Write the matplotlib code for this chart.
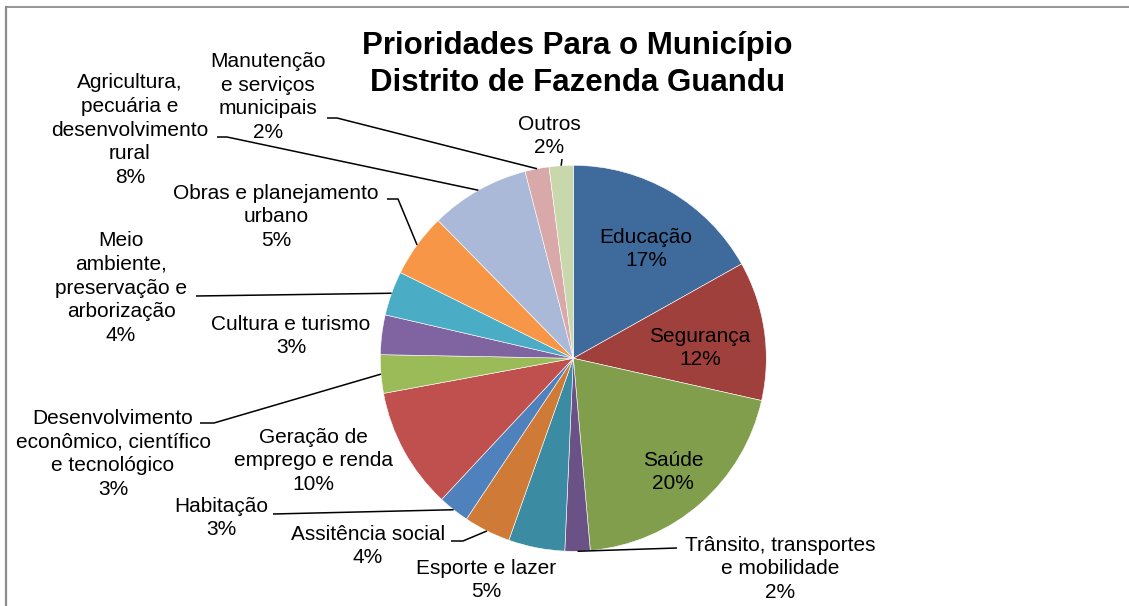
import numpy as np
import matplotlib
matplotlib.use("Agg")
import matplotlib.pyplot as plt

plt.rcParams['font.family'] = ['Liberation Sans', 'DejaVu Sans']

# data (clockwise from top)
categories = ["Educação", "Segurança", "Saúde", "Trânsito, transportes\ne mobilidade",
              "Esporte e lazer", "Assitência social", "Habitação",
              "Geração de\nemprego e renda",
              "Desenvolvimento\neconômico, científico\ne tecnológico",
              "Cultura e turismo",
              "Meio\nambiente,\npreservação e\narborização",
              "Obras e planejamento\nurbano",
              "Agricultura,\npecuária e\ndesenvolvimento\nrural",
              "Manutenção\ne serviços\nmunicipais", "Outros"]
values = [16.8, 11.6, 20.0, 2.1, 4.7, 3.9, 2.6, 10.1, 3.2, 3.3, 3.7, 5.3, 8.3, 2.0, 2.0]
colors = ["#3F6A9C", "#A0403D", "#809E4B", "#6A5287", "#3B8BA3", "#CF7B37", "#4F81BD",
          "#C0504D", "#9BBB59", "#8064A2", "#4BACC6", "#F79646", "#AAB9D7", "#D8A9A8", "#C8D8AC"]

W, H = 1129, 606
fig = plt.figure(figsize=(W / 100, H / 100), dpi=100)
ax = fig.add_axes([0, 0, 1, 1])

cx, cy, r = 573.3, H - 358.3, 193
wedges, _ = ax.pie(values, colors=colors, startangle=90, counterclock=False,
                   center=(cx, cy), radius=r,
                   wedgeprops=dict(edgecolor="white", linewidth=0.4))
ax.set_xlim(0, W)
ax.set_ylim(0, H)
ax.set_aspect("auto")
ax.axis("off")

# label placement (pixel coords from top-left) and leader-line starts
label_pos = [(646, 249), (700, 348), (673, 472), (780, 569), (486, 580), (368, 546),
             (221, 518), (313, 461), (113, 454), (291, 336), (121, 288), (276, 217),
             (130, 130), (268, 97), (549, 136)]
leaders = [None, None, None, [(677, 548)], None, [(451, 541), (463, 541)],
           [(273, 514)], None, [(200, 423), (214, 423)], None, [(196, 296)],
           [(387, 199), (398, 199)], [(217, 137), (227, 137)],
           [(327, 118), (337, 118)], [(562, 159)]]

total = sum(values)
for w, v, name, (lx, ly), ld in zip(wedges, values, categories, label_pos, leaders):
    pct = v / total * 100
    ax.text(lx, H - ly, f"{name}\n{pct:.0f}%", ha="center", va="center",
            fontsize=15, multialignment="center", color="black", linespacing=1.32)
    if ld:
        mid = np.deg2rad((w.theta1 + w.theta2) / 2)
        ex, ey = cx + r * np.cos(mid), cy + r * np.sin(mid)
        xs = [p[0] for p in ld] + [ex]
        ys = [H - p[1] for p in ld] + [ey]
        ax.plot(xs, ys, color="black", lw=1.1, solid_capstyle="butt")

ax.text(577, H - 64.5, "Prioridades Para o Município\nDistrito de Fazenda Guandu",
        ha="center", va="center", fontsize=22.5, fontweight="bold", linespacing=1.28)

# chart area border
ax.plot([6, W], [H - 7, H - 7], color="#8C8C8C", lw=1.3)
ax.plot([6, 6], [H - 7, 0], color="#8C8C8C", lw=1.6)

fig.savefig("out.png", dpi=100)
